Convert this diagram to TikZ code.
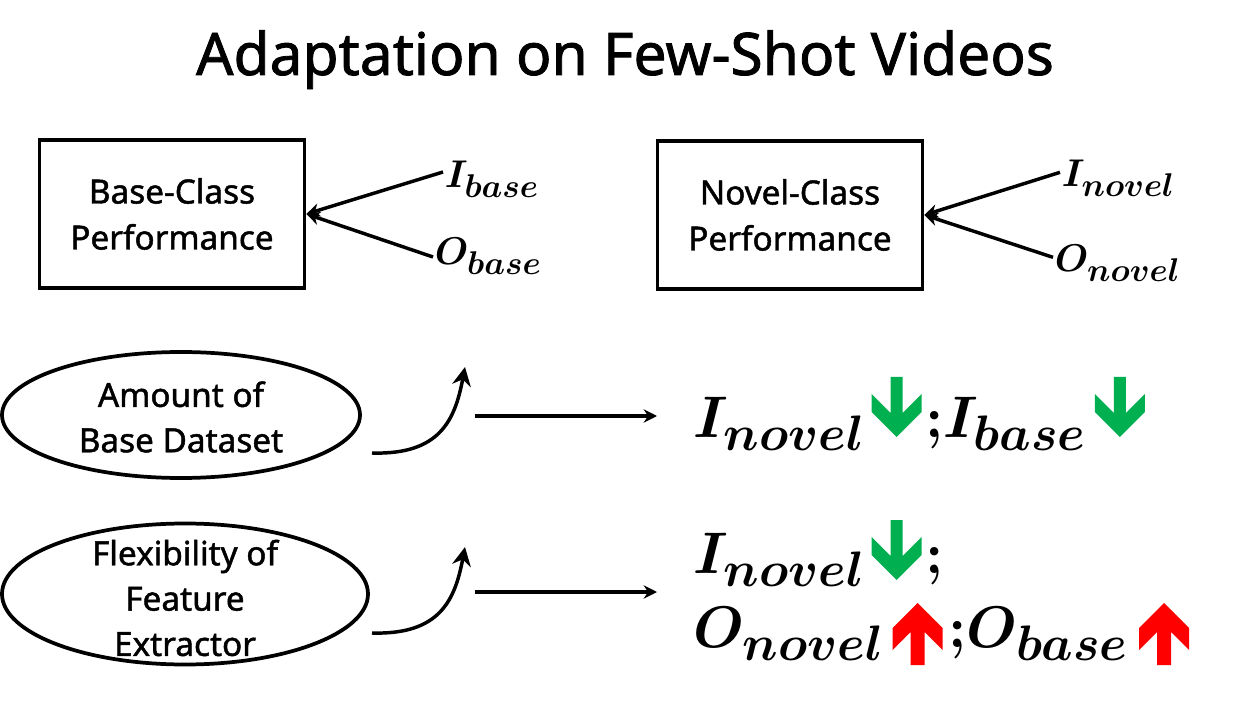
\RequirePackage{fix-cm}
\documentclass[tikz,border=0pt]{standalone}
\usepackage{amsmath,amssymb}
\usepackage{fontspec}
\setmainfont{Noto Sans}[FakeBold=1.4]
\usepackage{tikz}
\usetikzlibrary{positioning,calc,arrows.meta,shapes.geometric}
\renewcommand{\defaultscriptratio}{.85}
\newcommand{\pxu}{0.75pt}
\definecolor{downgreen}{RGB}{0,176,80}
\definecolor{upred}{RGB}{255,0,0}

\begin{document}
\begin{tikzpicture}[x=\pxu, y=-\pxu, line width=2.8pt, >={Stealth[length=10pt,width=10pt]},
  every edge/.append style={->, line width=2.6pt},
  box/.style={draw, rectangle, minimum width=265*\pxu, minimum height=148*\pxu, align=center, font=\fontsize{25}{34.5}\selectfont},
  oval/.style={draw, ellipse, minimum width=358*\pxu, minimum height=126*\pxu, inner sep=0pt},
  ovaltext/.style={align=center, inner sep=0pt, font=\fontsize{25}{34}\selectfont},
  lab/.style={anchor=base west, inner sep=0pt, font=\fontsize{29}{35}\selectfont},
  res/.style={anchor=base west, inner sep=0pt, font=\fontsize{44}{52}\selectfont},
  curvy/.style={line width=2.6pt, -{Stealth[length=14pt,width=14pt]}},
  dnarrow/.pic={\fill[downgreen] (-6,0) -- (6,0) -- (6,36) -- (25,17) -- (25,35) -- (0,60) -- (-25,35) -- (-25,17) -- (-6,36) -- cycle;},
  uparrow/.pic={\fill[upred] (0,0) -- (25,25) -- (25,47) -- (7,29) -- (7,62) -- (-7,62) -- (-7,29) -- (-25,47) -- (-25,25) -- cycle;}]

\useasboundingbox (0,0) rectangle (1257,709);

\node[anchor=base, font=\fontsize{44}{52}\selectfont] (title) at (625,75) {Adaptation on Few-Shot Videos};

% performance boxes and their two factors
\node[box] (base) at (172,214) {Base-Class\\Performance};
\node[box] (novel) at (790,215) {Novel-Class\\Performance};

\node[lab] (ib) at (443,188) {$\boldsymbol{I_{base}}$};
\node[lab] (ob) at (433,265) {$\boldsymbol{O_{base}}$};
\node[lab] (inov) at (1060,187) {$\boldsymbol{I_{novel}}$};
\node[lab] (onov) at (1053,272) {$\boldsymbol{O_{novel}}$};

\path
    ([yshift=12pt]ib.base west) edge (base.east)
    ([yshift=6pt]ob.base west) edge (base.east)
    ([yshift=11pt]inov.base west) edge (novel.east)
    ([yshift=11pt]onov.base west) edge (novel.east);

% the two settings
\node[oval] (amount) at (181,415) {};
\node[ovaltext] (amountt) at (181,417) {Amount of\\Base Dataset};
\node[oval, minimum width=366*\pxu, minimum height=141*\pxu] (flex) at (185,594) {};
\node[ovaltext] (flext) at (185,598) {Flexibility of\\Feature\\Extractor};

\coordinate (c1s) at (372,453);
\coordinate (c1e) at (465,367);
\coordinate (c2s) at (372,633);
\coordinate (c2e) at (465,547);
\draw[curvy] (c1s) .. controls (440,455) and (455,420) .. (c1e);
\draw[curvy] (c2s) .. controls (440,635) and (455,600) .. (c2e);

\coordinate (s1s) at (475,416);
\coordinate (s1e) at (657,416);
\coordinate (s2s) at (475,592);
\coordinate (s2e) at (657,592);
\path (s1s) edge (s1e)
      (s2s) edge (s2e);

% outcomes
\node[res] (r1a) at (692,437) {$\boldsymbol{I_{novel}}$};
\pic at ($(r1a.base east)+(30,-60)$) {dnarrow};
\node[res] (r1b) at ($(r1a.base east)+(57,0)$) {$\boldsymbol{{;}I_{base}}$};
\pic at ($(r1b.base east)+(32,-60)$) {dnarrow};

\node[res] (r2a) at (692,573) {$\boldsymbol{I_{novel}}$};
\pic at ($(r2a.base east)+(30,-53)$) {dnarrow};
\node[res] (r2b) at ($(r2a.base east)+(57,0)$) {$\boldsymbol{{;}}$};

\node[res] (r3a) at (692,647) {$\boldsymbol{O_{novel}}$};
\pic at ($(r3a.base east)+(32,-44)$) {uparrow};
\node[res] (r3b) at ($(r3a.base east)+(61,0)$) {$\boldsymbol{{;}O_{base}}$};
\pic at ($(r3b.base east)+(34,-44)$) {uparrow};
\end{tikzpicture}
\end{document}
